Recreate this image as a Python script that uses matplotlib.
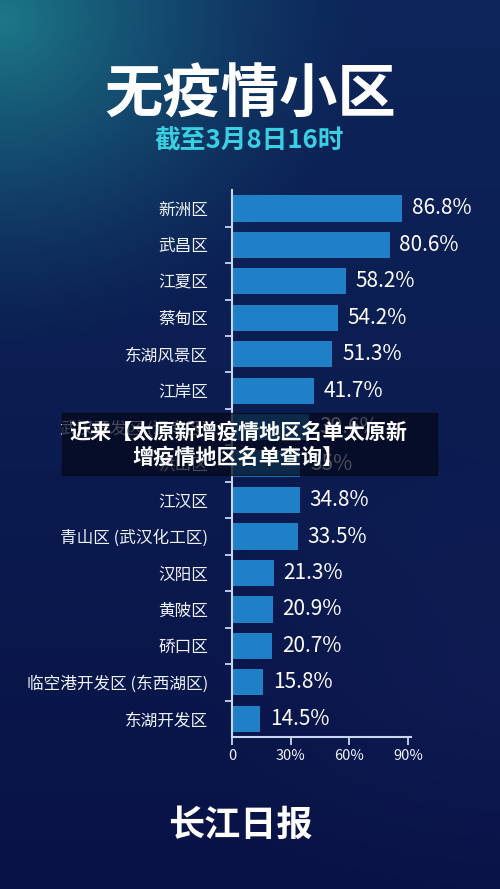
import numpy as np
import matplotlib.pyplot as plt
from matplotlib.patches import Rectangle
from matplotlib.ticker import FixedLocator

plt.rcParams['font.family'] = ['Noto Sans CJK SC', 'DejaVu Sans']

districts = [
    "新洲区", "武昌区", "江夏区", "蔡甸区", "东湖风景区", "江岸区",
    "武汉开发区 (汉南区)", "洪山区", "江汉区", "青山区 (武汉化工区)",
    "汉阳区", "黄陂区", "硚口区", "临空港开发区 (东西湖区)", "东湖开发区",
]
shares = [86.8, 80.6, 58.2, 54.2, 51.3, 41.7, 39.6, 35.0, 34.8, 33.5,
          21.3, 20.9, 20.7, 15.8, 14.5]
share_labels = ["86.8%", "80.6%", "58.2%", "54.2%", "51.3%", "41.7%", "39.6%",
                "35%", "34.8%", "33.5%", "21.3%", "20.9%", "20.7%", "15.8%", "14.5%"]
x_ticks = [0, 30, 60, 90]
x_tick_labels = ["0", "30%", "60%", "90%"]

title = "无疫情小区"
subtitle = "截至3月8日16时"
banner = "近来【太原新增疫情地区名单太原新\n增疫情地区名单查询】"
source = "长江日报"

fig = plt.figure(figsize=(5, 8.89), dpi=100)

# background gradient: navy with a teal glow at the top left
bg = fig.add_axes([0, 0, 1, 1], zorder=-1)
h, w = 400, 225
yy, xx = np.mgrid[0:1:h * 1j, 0:1:w * 1j]
top = np.array([0x0d, 0x25, 0x5a]) / 255
bottom = np.array([0x09, 0x12, 0x46]) / 255
img = top * (1 - yy[..., None]) + bottom * yy[..., None]
teal = np.array([0x1c, 0x78, 0x88]) / 255
d = np.sqrt((xx / 0.75) ** 2 + ((yy - 0.02) / 0.38) ** 2)
glow = np.clip(1 - d, 0, 1)[..., None] ** 1.4
img = img * (1 - glow) + teal * glow
d2 = np.sqrt(((xx - 1.0) / 0.6) ** 2 + ((yy - 0.75) / 0.3) ** 2)
glow2 = np.clip(1 - d2, 0, 1)[..., None] * 0.2
img = img * (1 - glow2) + np.array([0x22, 0x2e, 0x70]) / 255 * glow2
bg.imshow(img, aspect='auto', extent=[0, 1, 0, 1], origin='upper')
bg.set_axis_off()

ax = fig.add_axes([0.464, 0.171, 0.358, 0.615])
ax.set_facecolor('none')
pos = np.arange(len(districts))
ax.barh(pos, shares, height=0.72, color='#1f80c8')
ax.set_ylim(len(districts) - 0.5, -0.5)
ax.set_xlim(0, 91.5)

for p, v, lab in zip(pos, shares, share_labels):
    ax.annotate(lab, (v, p), xytext=(7, 0), textcoords='offset points',
                va='center', ha='left', color='white', fontsize=15)

ax.set_yticks(pos)
ax.set_yticklabels(districts, fontsize=12, color='#eef2fa')
ax.tick_params(axis='y', which='major', length=0, pad=17)
ax.yaxis.set_minor_locator(FixedLocator(np.arange(0.5, len(districts) - 1, 1)))
ax.tick_params(axis='y', which='minor', length=5, width=1.3, color='#c8d6ee', direction='out')

ax.set_xticks(x_ticks)
ax.set_xticklabels(x_tick_labels, fontsize=10.5, color='#eef2fa')
ax.tick_params(axis='x', length=6, width=1.3, color='#c8d6ee', pad=3)

for s in ['top', 'right']:
    ax.spines[s].set_visible(False)
for s in ['left', 'bottom']:
    ax.spines[s].set_color('#c8d6ee')
    ax.spines[s].set_linewidth(1.5)

fig.text(0.5, 0.893, title, ha='center', va='center', color='white',
         fontsize=42, fontweight='heavy')
fig.text(0.498, 0.841, subtitle, ha='center', va='center', color='#38d0e2',
         fontsize=18.5, fontweight='bold')

# overlay banner
fig.patches.append(Rectangle((0.124, 1 - 475 / 889), 0.75, 62 / 889,
                             transform=fig.transFigure, color='#05081a', alpha=0.72, zorder=5))
fig.text(0.476, 1 - 445 / 889, banner, ha='center', va='center', color='white',
         fontsize=15.2, fontweight='bold', linespacing=1.22, zorder=6)

fig.text(0.48, 0.072, source, ha='center', va='center', color='white',
         fontsize=26, fontweight='bold', style='italic')

fig.savefig('out.png', dpi=100)
